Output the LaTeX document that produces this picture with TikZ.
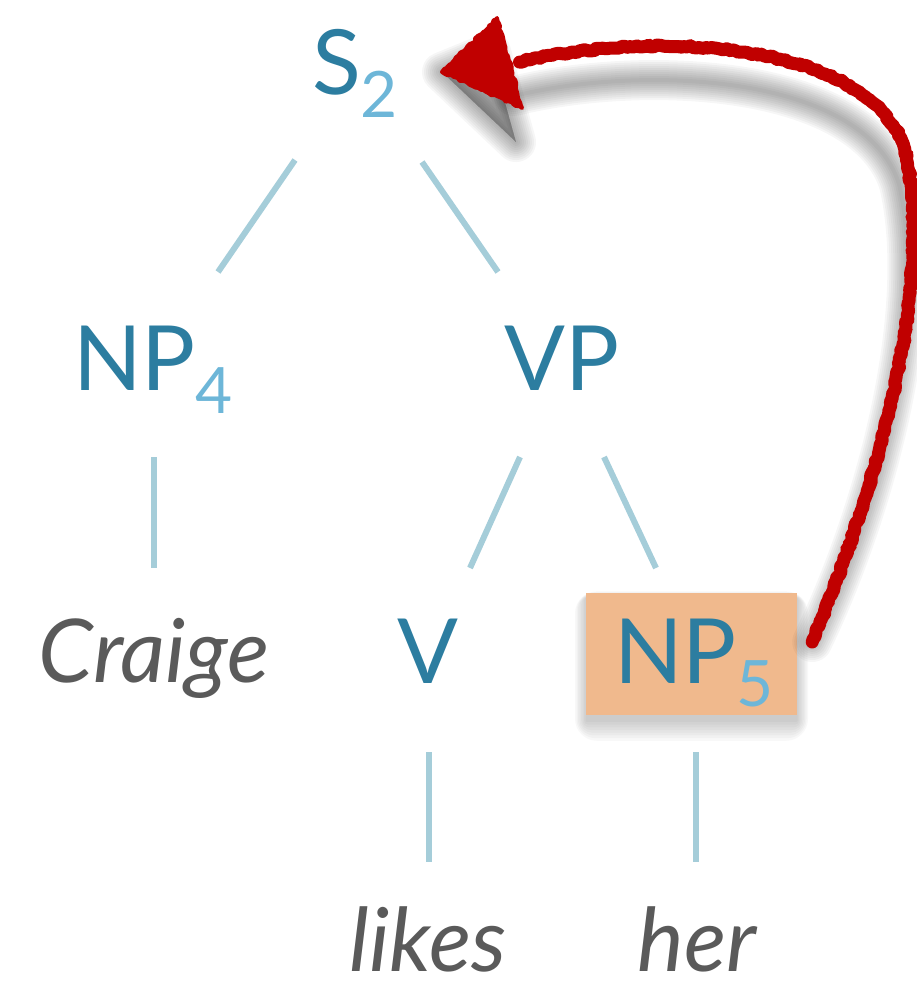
\documentclass[tikz,border=0pt]{standalone}
\usepackage{fontspec}
\setmainfont{Lato}
\usetikzlibrary{calc,decorations.pathmorphing}
\definecolor{textc}{HTML}{2C7DA0}
\definecolor{subc}{HTML}{6DB6D8}
\definecolor{edgec}{HTML}{A5CDD9}
\definecolor{wordc}{HTML}{5A5A5A}
\definecolor{boxc}{HTML}{F0B98D}
\definecolor{redc}{HTML}{C00000}
\newcommand{\mysub}[1]{\raisebox{-23pt}{\fontsize{64}{64}\selectfont\color{subc}#1}}
\tikzset{
  lab/.style={anchor=base, inner sep=0pt, text=textc, font=\fontsize{90}{96}\selectfont},
  word/.style={anchor=base, inner sep=0pt, text=wordc, font=\fontsize{88}{96}\selectfont\itshape},
  edge/.style={draw=edgec, line width=6pt},
  hibox/.style={fill=boxc, inner sep=0pt, minimum width=211pt, minimum height=122pt},
  rough/.style={decorate, decoration={random steps, segment length=3pt, amplitude=1.2pt}},
  rougher/.style={decorate, decoration={random steps, segment length=3pt, amplitude=2pt}},
  redline/.style={draw=redc, line width=13pt, line cap=round, line join=round, rough},
  redline2/.style={draw=redc, line width=9pt, line cap=round, line join=round, rougher},
  redhead/.style={fill=redc, draw=redc, line width=4pt, line join=round, rough}
}
\begin{document}
\begin{tikzpicture}[x=1pt, y=-1pt]
\pgfmathsetseed{7}
\useasboundingbox (0,0) rectangle (917,987);
% highlight box with soft shadow
\foreach \w in {22,19,...,1}{
  \fill[black, opacity=0.028, rounded corners=\w pt] (586-\w*0.5, 598-\w*0.3) rectangle (797+\w*0.5, 721+\w*0.9);
}
\node[hibox] (np5box) at (691.5,654) {};
% tree labels
\node[lab] (s)   at (355,95)  {S\mysub{2}};
\node[lab] (np4) at (153,390) {NP\mysub{4}};
\node[lab] (vp)  at (562,390) {VP};
\node[word] (craige) at (154,682) {Craige};
\node[lab] (v)   at (428,683) {V};
\node[lab] (np5) at (694,683) {NP\mysub{5}};
\node[word] (likes) at (428,971) {likes};
\node[word] (her)   at (697,971) {her};
% edges
\draw[edge] ($(s.base)+(-60,65)$) -- ($(np4.base)+(65,-118)$);
\draw[edge] ($(s.base)+(67,67)$) -- ($(vp.base)+(-64,-118)$);
\draw[edge] ($(np4.base)+(1,67)$) -- ($(craige.base)+(0,-114)$);
\draw[edge] ($(vp.base)+(-42,67)$) -- ($(v.base)+(42,-115)$);
\draw[edge] ($(vp.base)+(42,67)$) -- ($(np5.base)+(-38,-115)$);
\draw[edge] ($(v.base)+(1,69)$) -- ($(likes.base)+(1,-109)$);
\draw[edge] ($(np5.base)+(2,69)$) -- ($(her.base)+(-1,-109)$);
% arrow geometry
\coordinate (astart) at ($(np5box.east)+(15,-12)$);
\coordinate (atip) at ($(s.base)+(87,-23)$);
% shadow of the arrow (soft, layered)
\begin{scope}[shift={(-6,34)}]
  \foreach \w in {40,36,...,4}{
    \draw[black, opacity=0.035, line width=\w pt, line cap=round, line join=round]
      (astart) .. controls (880,480) and (935,280) .. (905,150)
      .. controls (870,40) and (650,30) .. (520,62);
    \filldraw[black, opacity=0.035, line width=\w pt, line join=round] (atip) -- (497,18) -- (522,108) -- cycle;
  }
\end{scope}
% red hand-drawn arrow
\draw[redline] (astart) .. controls (880,480) and (935,280) .. (905,150)
  .. controls (870,40) and (650,30) .. (520,62);
\draw[redline2] (astart) .. controls (880,480) and (935,280) .. (905,150)
  .. controls (870,40) and (650,30) .. (520,62);
\draw[redhead] (atip) -- (497,18) -- (522,108) -- cycle;
\end{tikzpicture}
\end{document}
